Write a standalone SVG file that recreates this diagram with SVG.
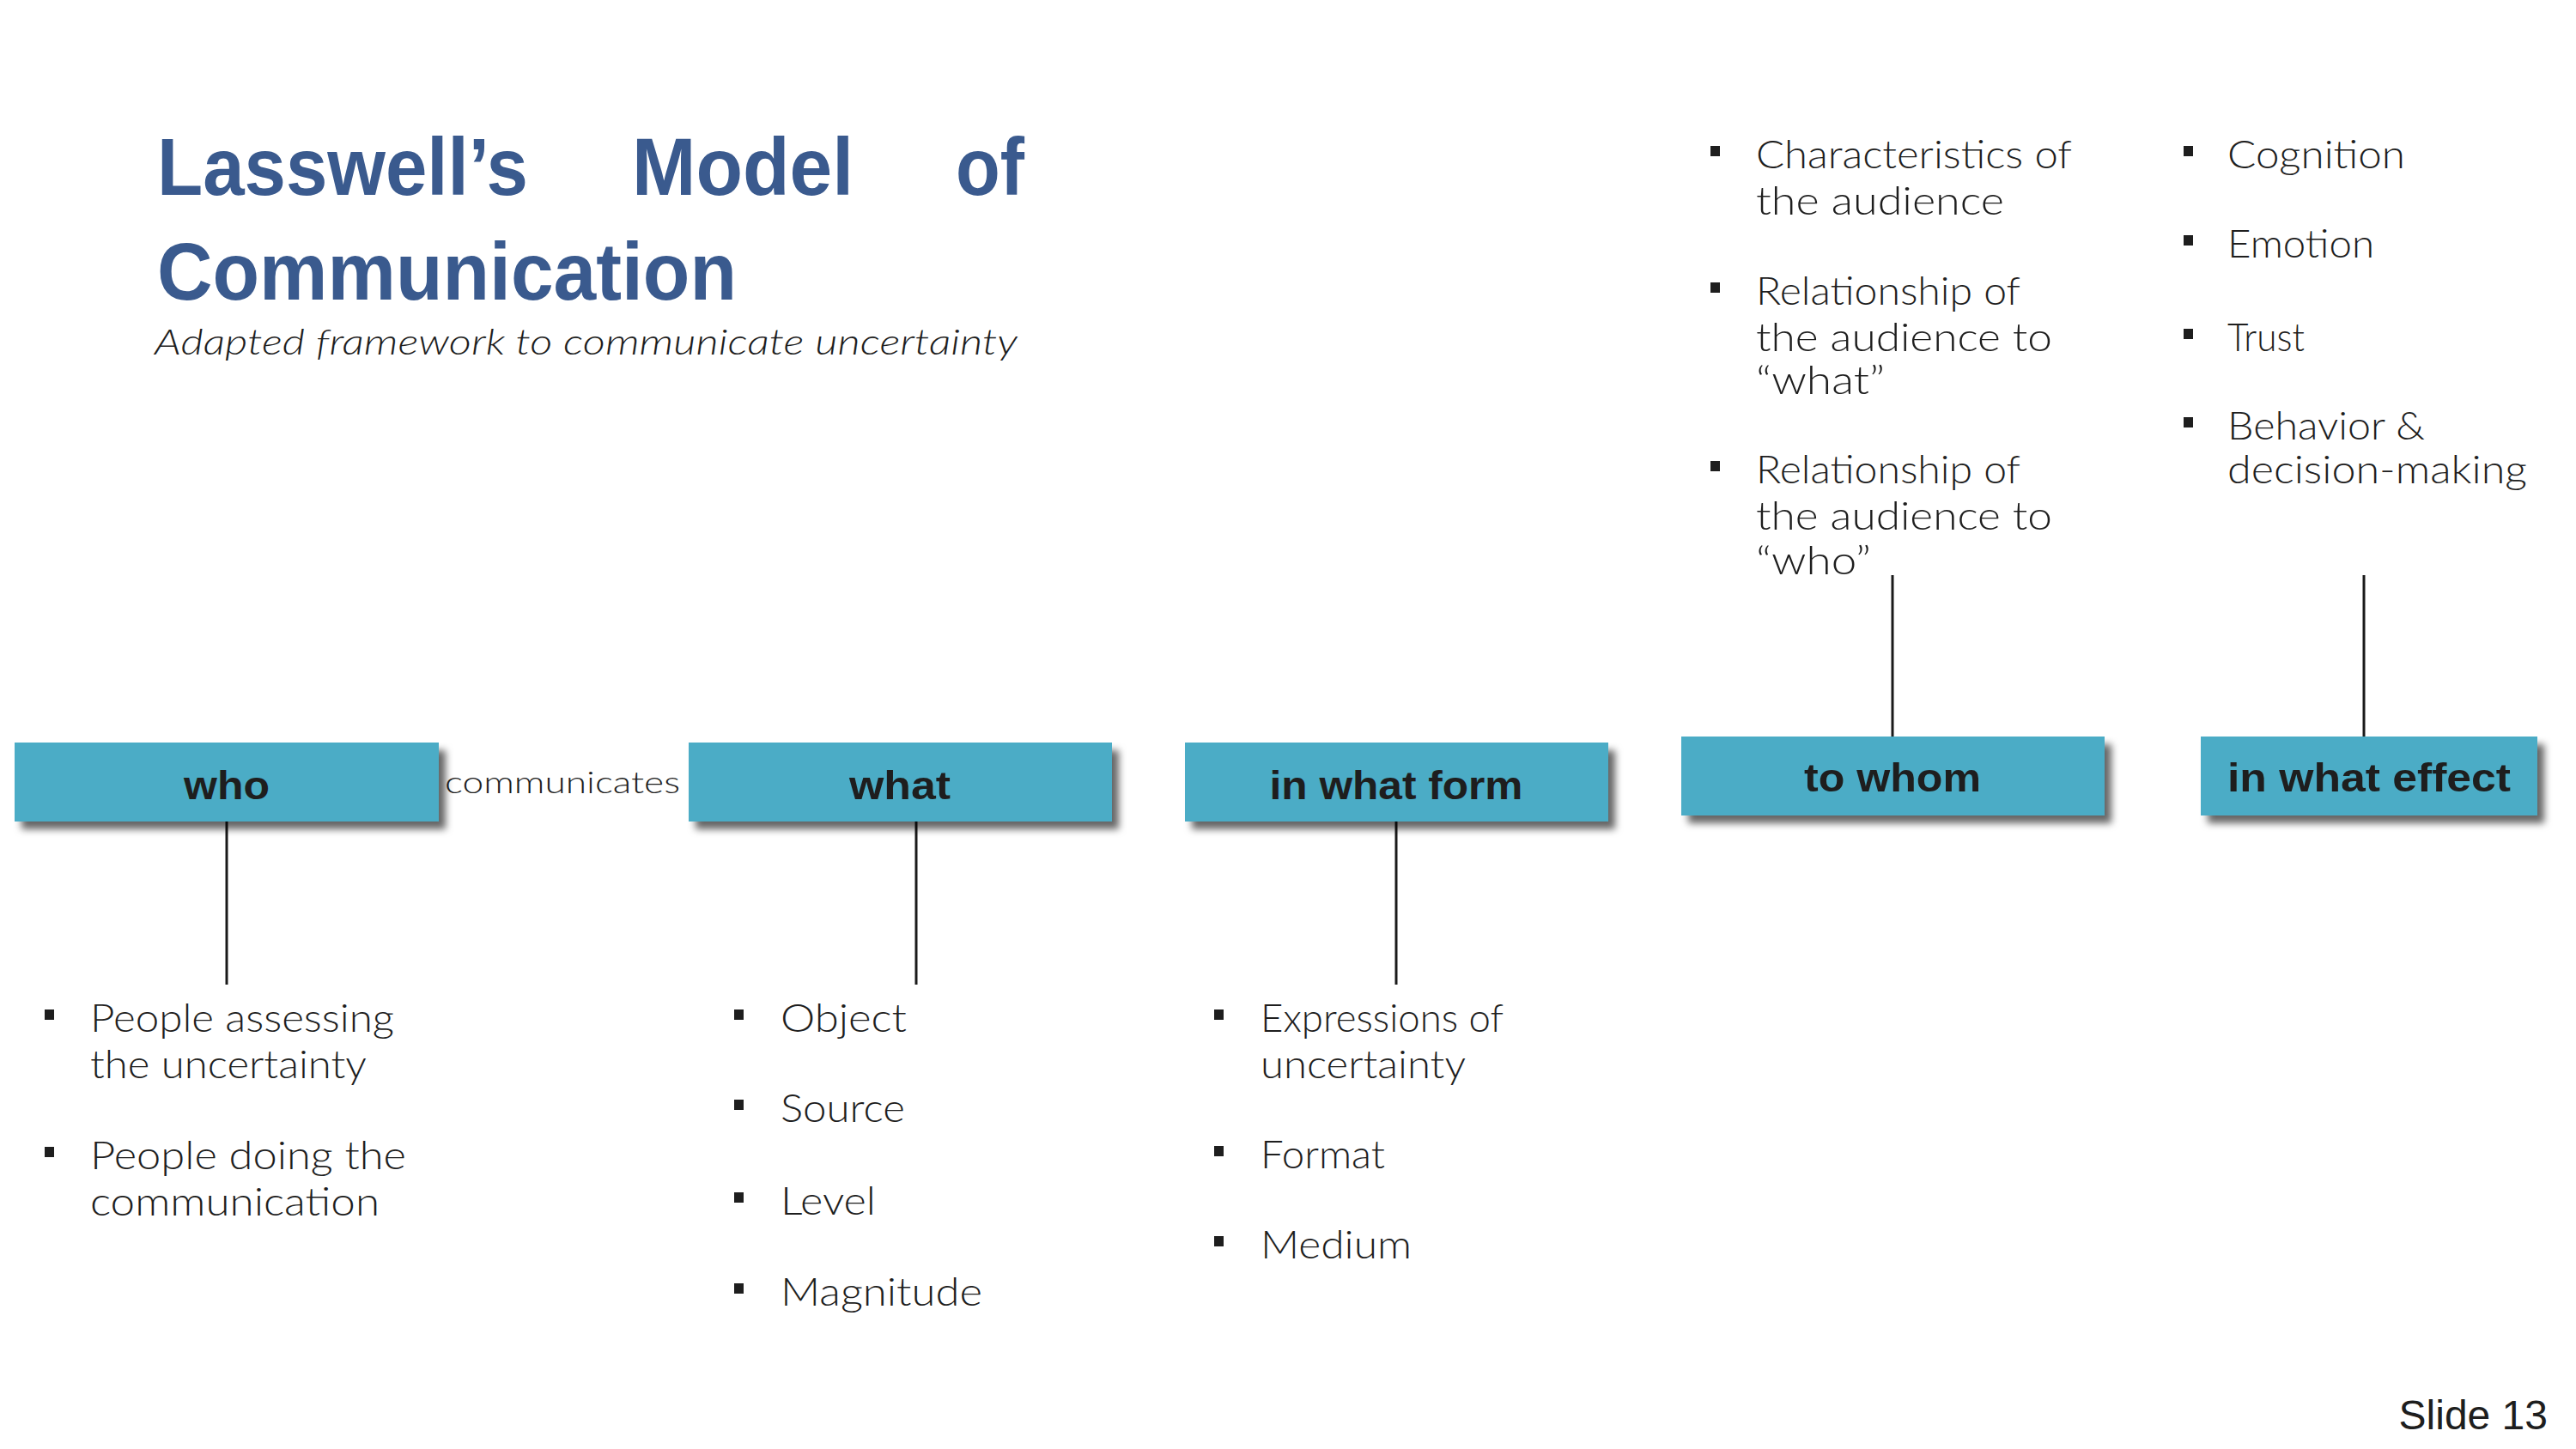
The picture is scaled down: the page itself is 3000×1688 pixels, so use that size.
<svg xmlns="http://www.w3.org/2000/svg" width="3000" height="1688" viewBox="0 0 3000 1688">
<defs>
<filter id="sh" x="-10%" y="-30%" width="130%" height="180%">
<feGaussianBlur in="SourceAlpha" stdDeviation="4"/>
<feOffset dx="8" dy="9" result="b"/>
<feFlood flood-color="#000" flood-opacity="0.6"/>
<feComposite in2="b" operator="in"/>
<feMerge><feMergeNode/><feMergeNode in="SourceGraphic"/></feMerge>
</filter>
</defs>
<style>
.box{fill:#4BACC6;filter:url(#sh)}
.bl{font-family:"Liberation Sans",Arial,sans-serif;font-weight:bold;font-size:46px;fill:#1e1e1e;text-anchor:middle}
.t{font-family:"Liberation Sans",Arial,sans-serif;font-weight:bold;font-size:94px;fill:#3A5A8E}
.sub{font-family:Lato,"Liberation Sans",sans-serif;font-style:italic;font-weight:300;font-size:42px;fill:#1e1e1e}
.b{font-family:Lato,"Liberation Sans",sans-serif;font-weight:300;font-size:45px;fill:#1e1e1e}
.sq{fill:#1e1e1e}
.ln{stroke:#1a1a1a;stroke-width:3;fill:none}
</style>
<rect width="3000" height="1688" fill="#fff"/>
<g id="title">
<text class="t" x="183" y="227" textLength="432" lengthAdjust="spacingAndGlyphs">Lasswell’s</text>
<text class="t" x="736" y="227" textLength="258" lengthAdjust="spacingAndGlyphs">Model</text>
<text class="t" x="1113" y="227" textLength="80" lengthAdjust="spacingAndGlyphs">of</text>
<text class="t" x="183" y="349" textLength="675" lengthAdjust="spacingAndGlyphs">Communication</text>
<text class="sub" x="180" y="413" textLength="1005" lengthAdjust="spacingAndGlyphs">Adapted framework to communicate uncertainty</text>
</g>
<g id="connectors">
<line class="ln" x1="264" y1="957" x2="264" y2="1147"/>
<line class="ln" x1="1067" y1="957" x2="1067" y2="1147"/>
<line class="ln" x1="1626" y1="957" x2="1626" y2="1147"/>
<line class="ln" x1="2204" y1="670" x2="2204" y2="858"/>
<line class="ln" x1="2753" y1="670" x2="2753" y2="858"/>
</g>
<g id="who">
<rect class="box" x="17" y="865" width="494" height="92"/>
<text class="bl" x="264" y="931" textLength="100" lengthAdjust="spacingAndGlyphs">who</text>
</g>
<g id="communicates">
<text x="518" y="924" font-family="Lato,'Liberation Sans',sans-serif" font-weight="300" font-size="36" fill="#1e1e1e" textLength="274" lengthAdjust="spacingAndGlyphs">communicates</text>
</g>
<g id="what">
<rect class="box" x="802" y="865" width="493" height="92"/>
<text class="bl" x="1048" y="931" textLength="118" lengthAdjust="spacingAndGlyphs">what</text>
</g>
<g id="in-what-form">
<rect class="box" x="1380" y="865" width="493" height="92"/>
<text class="bl" x="1626" y="931" textLength="295" lengthAdjust="spacingAndGlyphs">in what form</text>
</g>
<g id="to-whom">
<rect class="box" x="1958" y="858" width="493" height="92"/>
<text class="bl" x="2204" y="922" textLength="206" lengthAdjust="spacingAndGlyphs">to whom</text>
</g>
<g id="in-what-effect">
<rect class="box" x="2563" y="858" width="392" height="92"/>
<text class="bl" x="2759" y="922" textLength="330" lengthAdjust="spacingAndGlyphs">in what effect</text>
</g>
<g id="who-list">
<rect class="sq" x="52" y="1176" width="11" height="12"/>
<text class="b" x="105" y="1202" textLength="354" lengthAdjust="spacingAndGlyphs">People assessing</text>
<text class="b" x="105" y="1256" textLength="322" lengthAdjust="spacingAndGlyphs">the uncertainty</text>
<rect class="sq" x="52" y="1336" width="11" height="12"/>
<text class="b" x="105" y="1362" textLength="368" lengthAdjust="spacingAndGlyphs">People doing the</text>
<text class="b" x="105" y="1416" textLength="337" lengthAdjust="spacingAndGlyphs">communication</text>
</g>
<g id="what-list">
<rect class="sq" x="855" y="1176" width="11" height="12"/>
<text class="b" x="909" y="1202" textLength="147" lengthAdjust="spacingAndGlyphs">Object</text>
<rect class="sq" x="855" y="1281" width="11" height="12"/>
<text class="b" x="909" y="1307" textLength="145" lengthAdjust="spacingAndGlyphs">Source</text>
<rect class="sq" x="855" y="1389" width="11" height="12"/>
<text class="b" x="909" y="1415" textLength="111" lengthAdjust="spacingAndGlyphs">Level</text>
<rect class="sq" x="855" y="1495" width="11" height="12"/>
<text class="b" x="909" y="1521" textLength="235" lengthAdjust="spacingAndGlyphs">Magnitude</text>
</g>
<g id="form-list">
<rect class="sq" x="1414" y="1176" width="11" height="12"/>
<text class="b" x="1468" y="1202" textLength="283" lengthAdjust="spacingAndGlyphs">Expressions of</text>
<text class="b" x="1468" y="1256" textLength="239" lengthAdjust="spacingAndGlyphs">uncertainty</text>
<rect class="sq" x="1414" y="1335" width="11" height="12"/>
<text class="b" x="1468" y="1361" textLength="145" lengthAdjust="spacingAndGlyphs">Format</text>
<rect class="sq" x="1414" y="1440" width="11" height="12"/>
<text class="b" x="1468" y="1466" textLength="176" lengthAdjust="spacingAndGlyphs">Medium</text>
</g>
<g id="whom-list">
<rect class="sq" x="1992" y="170" width="11" height="12"/>
<text class="b" x="2045" y="196" textLength="368" lengthAdjust="spacingAndGlyphs">Characteristics of</text>
<text class="b" x="2045" y="250" textLength="289" lengthAdjust="spacingAndGlyphs">the audience</text>
<rect class="sq" x="1992" y="329" width="11" height="12"/>
<text class="b" x="2045" y="355" textLength="308" lengthAdjust="spacingAndGlyphs">Relationship of</text>
<text class="b" x="2045" y="409" textLength="345" lengthAdjust="spacingAndGlyphs">the audience to</text>
<text class="b" x="2045" y="459" textLength="150" lengthAdjust="spacingAndGlyphs">“what”</text>
<rect class="sq" x="1992" y="537" width="11" height="12"/>
<text class="b" x="2045" y="563" textLength="308" lengthAdjust="spacingAndGlyphs">Relationship of</text>
<text class="b" x="2045" y="617" textLength="345" lengthAdjust="spacingAndGlyphs">the audience to</text>
<text class="b" x="2045" y="669" textLength="134" lengthAdjust="spacingAndGlyphs">“who”</text>
</g>
<g id="effect-list">
<rect class="sq" x="2543" y="170" width="11" height="12"/>
<text class="b" x="2594" y="196" textLength="207" lengthAdjust="spacingAndGlyphs">Cognition</text>
<rect class="sq" x="2543" y="274" width="11" height="12"/>
<text class="b" x="2594" y="300" textLength="171" lengthAdjust="spacingAndGlyphs">Emotion</text>
<rect class="sq" x="2543" y="383" width="11" height="12"/>
<text class="b" x="2594" y="409" textLength="90" lengthAdjust="spacingAndGlyphs">Trust</text>
<rect class="sq" x="2543" y="486" width="11" height="12"/>
<text class="b" x="2594" y="512" textLength="230" lengthAdjust="spacingAndGlyphs">Behavior &amp;</text>
<text class="b" x="2594" y="563" textLength="349" lengthAdjust="spacingAndGlyphs">decision-making</text>
</g>
<g id="footer">
<text x="2967" y="1665" font-family="'Liberation Sans',Arial,sans-serif" font-size="48" fill="#1e1e1e" text-anchor="end">Slide 13</text>
</g>
</svg>
